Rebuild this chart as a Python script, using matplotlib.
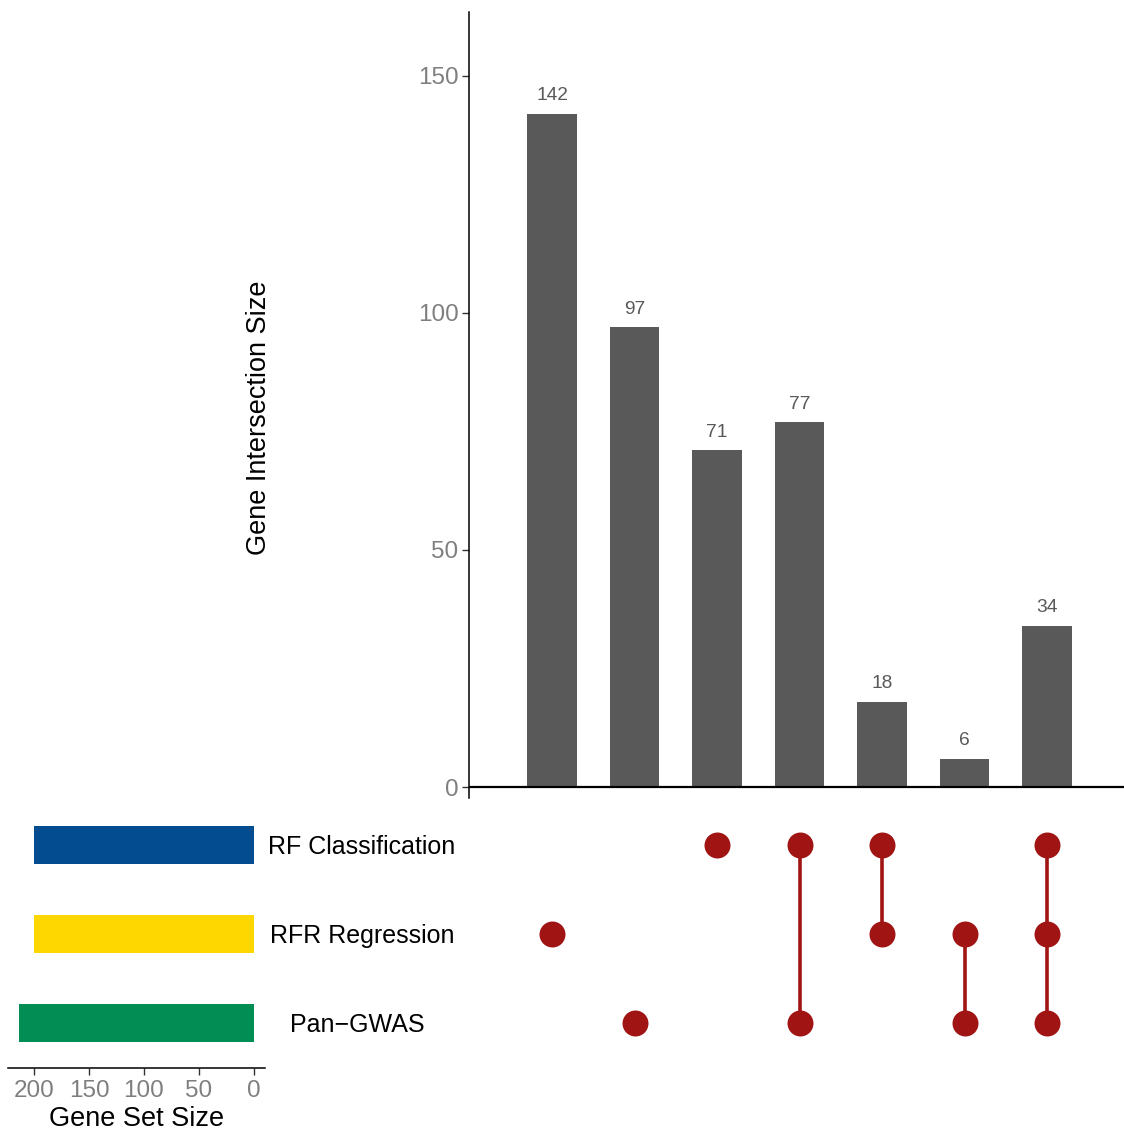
import matplotlib
matplotlib.use("Agg")
import matplotlib.pyplot as plt
import matplotlib.transforms as mtrans
import numpy as np

plt.rcParams['font.family'] = ['Liberation Sans', 'DejaVu Sans']

# data
set_names = ['Pan\u2212GWAS', 'RFR Regression', 'RF Classification']  # bottom to top
set_sizes = [214, 200, 200]
set_colors = ['#028D54', '#FFD700', '#034C8F']

inter_sizes = [142, 97, 71, 77, 18, 6, 34]
# membership per intersection, indices into set_names
inter_members = [[1], [0], [2], [0, 2], [1, 2], [0, 1], [0, 1, 2]]

W, H = 1124, 1133
fig = plt.figure(figsize=(W / 100, H / 100), dpi=100)

def px_axes(l, t, r, b):
    return fig.add_axes([l / W, 1 - b / H, (r - l) / W, (b - t) / H])

bar_col = '#595959'
dot_col = '#A01414'
tick_gray = '#7F7F7F'

# ---- intersection bars
ax = px_axes(469.5, 12, 1124, 798)
x = np.arange(1, len(inter_sizes) + 1)
ax.bar(x, inter_sizes, width=0.6, color=bar_col)
for xi, v in zip(x, inter_sizes):
    ax.text(xi, v + 2.0, str(v), ha='center', va='bottom', fontsize=13.8, color=bar_col)
ax.set_xlim(0, 7.93)
ax.set_ylim(-2.32, 163.5)
ax.axhline(0, color='black', lw=1.6)
for s in ['top', 'right', 'bottom']:
    ax.spines[s].set_visible(False)
ax.spines['left'].set_linewidth(1.1)
ax.set_xticks([])
ax.set_yticks([0, 50, 100, 150])
ax.tick_params(axis='y', length=5, width=1, color='#333333', labelsize=17.5,
               labelcolor=tick_gray, pad=3)
fig.text(259 / W, 1 - 418 / H, 'Gene Intersection Size', rotation=90,
         ha='center', va='center', fontsize=19.5)

# ---- matrix
mx = px_axes(469.5, 800.5, 1124, 1067.5)
mx.set_xlim(0, 7.93)
mx.set_ylim(-0.5, 2.5)
for xi, mem in zip(x, inter_members):
    if len(mem) > 1:
        mx.plot([xi, xi], [min(mem), max(mem)], color=dot_col, lw=2.6, zorder=1)
    mx.scatter([xi] * len(mem), mem, s=350, color=dot_col, zorder=2, linewidths=0)
mx.axis('off')

# set names
name_x = [357, 362, 362]
tr = mtrans.blended_transform_factory(fig.transFigure, mx.transData)
for i, name in enumerate(set_names):
    mx.text(name_x[i] / W, i, name, transform=tr, ha='center',
            va='center_baseline', fontsize=18)

# ---- set size bars
sx = px_axes(8, 800.5, 265, 1067.5)
sx.barh(np.arange(len(set_sizes)), set_sizes, height=0.43, color=set_colors)
sx.set_xlim(223.6, -10)
sx.set_ylim(-0.5, 2.5)
for s in ['top', 'right', 'left']:
    sx.spines[s].set_visible(False)
sx.spines['bottom'].set_linewidth(1.1)
sx.set_yticks([])
sx.set_xticks([0, 50, 100, 150, 200])
sx.tick_params(axis='x', length=5, width=1, color='#333333', labelsize=17.5,
               labelcolor=tick_gray, pad=4)
sx.set_xlabel('Gene Set Size', fontsize=19.5, labelpad=3)

fig.savefig('out.png', dpi=100)
